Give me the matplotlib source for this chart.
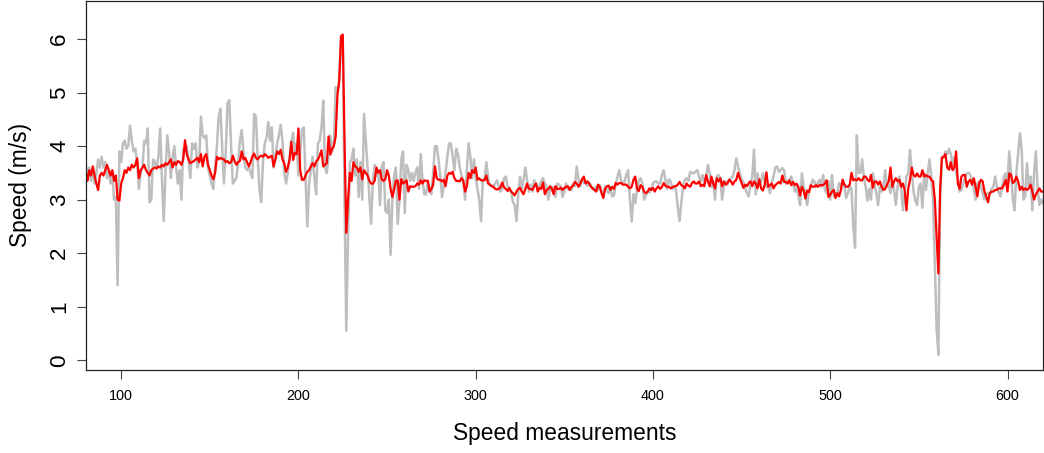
import matplotlib
matplotlib.use("Agg")
import matplotlib.pyplot as plt

# one value per measurement, starting at measurement 80
x_start = 80

# raw speed (grey line)
raw_speed = [
    3.65, 3.45, 3.6, 3.35, 3.55, 3.3, 3.5, 3.75, 3.6, 3.8,
    3.6, 3.7, 3.4, 3.55, 3.3, 3.5, 3.0, 3.05, 1.4, 3.9,
    3.7, 4.05, 4.1, 3.95, 4.0, 4.38, 4.1, 3.9, 3.95, 3.7,
    3.2, 3.5, 3.6, 4.1, 4.05, 4.33, 2.95, 3.0, 3.75, 3.7,
    3.6, 3.8, 4.33, 3.4, 2.6, 3.5, 4.2, 3.9, 3.4, 3.8,
    4.0, 3.6, 3.3, 3.55, 3.0, 3.95, 3.9, 4.0, 3.75, 3.4,
    4.05, 3.95, 4.05, 3.6, 3.7, 4.55, 4.2, 4.15, 4.2, 3.6,
    3.45, 3.3, 3.2, 3.6, 4.0, 4.55, 4.7, 3.95, 3.3, 3.9,
    4.8, 4.86, 4.0, 3.3, 3.35, 3.4, 3.7, 4.1, 4.3, 3.9,
    3.6, 3.55, 3.6, 3.5, 3.4, 4.6, 4.55, 3.8, 3.2, 2.95,
    3.7, 4.05, 4.15, 4.45, 4.1, 4.35, 3.6, 3.8, 4.05, 4.2,
    4.4, 4.1, 3.5, 3.3, 3.5, 3.8, 4.1, 4.25, 3.9, 4.05,
    3.45, 3.9, 4.3, 4.35, 3.4, 2.5, 3.3, 3.55, 3.8, 3.4,
    3.1, 4.05, 4.1, 4.35, 4.85, 3.6, 3.5, 3.8, 4.2, 3.9,
    4.05, 5.1, 5.0, 5.25, 5.98, 6.08, 3.0, 0.55, 2.4, 3.7,
    3.75, 3.95, 3.45, 3.75, 3.05, 3.7, 3.0, 4.6, 4.1, 3.6,
    3.05, 2.55, 3.35, 3.65, 3.45, 3.55, 2.9, 3.6, 3.7, 2.8,
    2.75, 3.0, 1.97, 3.0, 3.45, 3.6, 2.55, 3.0, 3.75, 3.9,
    2.75, 3.65, 3.55, 3.35, 3.5, 3.35, 3.5, 3.6, 3.2, 3.85,
    3.35, 3.1, 3.1, 3.35, 3.15, 3.1, 3.5, 4.0, 4.0, 3.75,
    3.45, 3.05, 3.25, 3.5, 3.8, 4.05, 4.05, 3.8, 3.55, 3.95,
    3.85, 3.6, 3.45, 3.35, 3.0, 3.55, 4.05, 3.8, 3.4, 3.75,
    3.4, 3.2, 3.0, 2.6, 3.36, 3.4, 3.7, 3.4, 3.28, 3.25,
    3.26, 3.3, 3.36, 3.25, 3.15, 3.2, 3.4, 3.43, 3.25, 3.18,
    3.15, 2.95, 2.9, 2.6, 3.1, 3.43, 3.2, 3.36, 3.6, 3.36,
    3.15, 3.28, 3.15, 3.36, 3.3, 3.24, 3.25, 3.34, 3.4, 3.3,
    3.24, 3.0, 3.2, 3.17, 3.24, 3.05, 3.3, 3.28, 3.25, 3.05,
    3.15, 3.3, 3.2, 3.22, 3.18, 3.3, 3.25, 3.62, 3.38, 3.25,
    3.37, 3.31, 3.33, 3.26, 3.32, 3.26, 3.2, 3.21, 3.24, 3.18,
    3.27, 3.15, 3.1, 3.24, 3.18, 3.12, 3.24, 3.06, 3.08, 3.28,
    3.43, 3.55, 3.36, 3.28, 3.34, 3.47, 3.55, 3.0, 2.59, 3.1,
    2.93, 3.18, 3.36, 3.4, 3.3, 3.0, 3.08, 3.15, 3.13, 3.2,
    3.3, 3.34, 3.34, 3.3, 3.3, 3.45, 3.55, 3.37, 3.2, 3.38,
    3.34, 3.2, 3.25, 3.18, 2.85, 2.6, 2.95, 3.24, 3.37, 3.4,
    3.35, 3.52, 3.5, 3.49, 3.52, 3.55, 3.43, 3.34, 3.46, 3.3,
    3.43, 3.65, 3.49, 3.24, 3.35, 3.0, 3.43, 3.46, 3.4, 3.0,
    3.24, 3.34, 3.28, 3.37, 3.4, 3.43, 3.55, 3.77, 3.62, 3.49,
    3.37, 3.33, 3.21, 3.12, 3.06, 3.28, 3.43, 3.93, 3.1, 3.49,
    3.28, 3.34, 3.49, 3.34, 3.24, 3.24, 3.12, 3.31, 3.43, 3.6,
    3.62, 3.52, 3.55, 3.59, 3.55, 3.3, 3.34, 3.37, 3.43, 3.3,
    3.15, 3.24, 3.06, 2.9, 3.49, 3.24, 3.09, 2.9, 3.15, 3.24,
    3.37, 3.34, 3.24, 3.31, 3.37, 3.24, 3.46, 3.18, 3.12, 3.34,
    3.0, 3.46, 3.06, 3.12, 3.12, 3.31, 3.24, 3.37, 3.24, 3.03,
    3.12, 3.24, 3.2, 2.5, 2.1, 4.2, 3.5, 3.5, 3.75, 3.4,
    3.24, 2.98, 3.2, 3.0, 3.49, 3.28, 3.12, 2.9, 3.24, 3.15,
    3.24, 3.55, 3.24, 3.28, 3.12, 3.37, 3.18, 2.9, 3.24, 3.43,
    3.24, 2.8, 3.12, 3.43, 3.49, 3.93, 3.55, 3.15, 2.98, 2.9,
    3.24, 3.3, 2.85, 3.49, 3.18, 3.49, 3.75, 3.43, 3.0, 1.8,
    0.6, 0.1, 3.0, 3.8, 3.78, 3.9, 3.85, 3.95, 3.85, 3.65,
    3.8, 3.5, 3.4, 3.15, 3.18, 3.3, 3.4, 3.49, 3.5, 3.46,
    3.37, 3.2, 3.0, 3.3, 3.34, 3.24, 3.12, 3.0, 3.1, 3.12,
    3.1, 3.2, 3.24, 3.43, 3.24, 3.15, 3.06, 3.24, 3.43, 3.49,
    3.3, 3.9, 3.5, 3.0, 2.8, 3.49, 3.86, 4.24, 3.93, 3.0,
    3.06, 3.68, 3.24, 3.43, 2.8, 3.5, 3.9, 3.2, 2.9, 3.0,
    2.93,
]

# smoothed speed (red line)
smooth_speed = [
    3.52, 3.35, 3.55, 3.45, 3.62, 3.45, 3.3, 3.18, 3.45, 3.5,
    3.45, 3.55, 3.65, 3.55, 3.45, 3.55, 3.35, 3.45, 3.0, 2.98,
    3.3, 3.4, 3.55, 3.5, 3.6, 3.55, 3.65, 3.6, 3.65, 3.77,
    3.4, 3.55, 3.6, 3.65, 3.55, 3.5, 3.45, 3.55, 3.58, 3.6,
    3.58, 3.62, 3.6, 3.65, 3.62, 3.68, 3.65, 3.7, 3.75, 3.6,
    3.7, 3.65, 3.72, 3.7, 3.65, 3.75, 4.11, 3.85, 3.75, 3.68,
    3.7, 3.72, 3.75, 3.78, 3.7, 3.85, 3.62, 3.8, 3.85, 3.65,
    3.55, 3.45, 3.38, 3.5, 3.8, 3.75, 3.78, 3.76, 3.75, 3.7,
    3.72, 3.68, 3.7, 3.82, 3.72, 3.65, 3.7, 3.72, 3.9, 3.75,
    3.78, 3.7, 3.62, 3.7, 3.8, 3.86, 3.78, 3.75, 3.8, 3.82,
    3.8, 3.85, 3.82, 3.78, 3.8, 3.82, 3.62, 3.75, 3.9, 3.85,
    3.93, 3.75, 3.68, 3.52, 3.6, 3.75, 4.08, 3.74, 3.87, 3.85,
    4.33, 3.55, 3.37, 3.37, 3.45, 3.52, 3.55, 3.62, 3.68, 3.62,
    3.71, 3.75, 3.82, 3.92, 3.62, 3.65, 3.68, 4.18, 3.84, 3.95,
    4.0, 4.18, 4.96, 5.2, 6.05, 6.08, 4.1, 2.38, 3.0, 3.5,
    3.35, 3.7, 3.62, 3.6, 3.52, 3.6, 3.38, 3.55, 3.5, 3.45,
    3.35, 3.3, 3.3, 3.35, 3.6, 3.5, 3.55, 3.38, 3.35, 3.38,
    3.55, 3.45, 3.2, 3.05, 3.2, 3.35, 3.36, 3.0, 3.38, 3.3,
    3.33, 3.36, 3.15, 3.25, 3.24, 3.24, 3.25, 3.3, 3.28, 3.36,
    3.3, 3.36, 3.35, 3.35, 3.15, 3.2, 3.28, 3.62, 3.4, 3.37,
    3.37, 3.34, 3.37, 3.25, 3.45, 3.5, 3.48, 3.52, 3.4, 3.35,
    3.35, 3.34, 3.4, 3.35, 3.15, 3.25, 3.5, 3.4, 3.55, 3.5,
    3.6, 3.37, 3.4, 3.36, 3.36, 3.36, 3.45, 3.3, 3.28, 3.25,
    3.24, 3.2, 3.19, 3.2, 3.23, 3.32, 3.23, 3.2, 3.16, 3.22,
    3.15, 3.12, 3.08, 3.15, 3.2, 3.22, 3.15, 3.1, 3.2, 3.3,
    3.2, 3.2, 3.18, 3.25, 3.3, 3.15, 3.22, 3.2, 3.32, 3.1,
    3.18, 3.2, 3.25, 3.2, 3.1, 3.25, 3.2, 3.2, 3.22, 3.18,
    3.22, 3.24, 3.25, 3.18, 3.24, 3.26, 3.33, 3.3, 3.24, 3.3,
    3.38, 3.43, 3.3, 3.34, 3.3, 3.24, 3.21, 3.18, 3.15, 3.28,
    3.24, 3.12, 3.03, 3.2, 3.25, 3.26, 3.18, 3.24, 3.2, 3.31,
    3.28, 3.31, 3.31, 3.28, 3.28, 3.28, 3.24, 3.21, 3.24, 3.37,
    3.43, 3.2, 3.16, 3.27, 3.24, 3.15, 3.12, 3.15, 3.21, 3.18,
    3.22, 3.15, 3.21, 3.25, 3.2, 3.23, 3.31, 3.26, 3.24, 3.24,
    3.21, 3.23, 3.25, 3.25, 3.28, 3.33, 3.27, 3.25, 3.21, 3.3,
    3.26, 3.24, 3.31, 3.34, 3.3, 3.3, 3.34, 3.25, 3.28, 3.25,
    3.46, 3.34, 3.25, 3.43, 3.3, 3.21, 3.4, 3.34, 3.4, 3.25,
    3.34, 3.28, 3.31, 3.37, 3.34, 3.28, 3.34, 3.37, 3.5, 3.4,
    3.31, 3.22, 3.28, 3.25, 3.31, 3.34, 3.25, 3.34, 3.3, 3.21,
    3.38, 3.21, 3.17, 3.27, 3.51, 3.24, 3.27, 3.3, 3.21, 3.27,
    3.3, 3.33, 3.3, 3.45, 3.33, 3.33, 3.3, 3.36, 3.27, 3.33,
    3.27, 3.3, 3.24, 3.08, 3.24, 3.17, 3.02, 3.17, 3.14, 3.27,
    3.24, 3.24, 3.27, 3.24, 3.27, 3.27, 3.27, 3.3, 3.36, 3.05,
    3.09, 3.15, 3.18, 3.03, 3.12, 3.06, 3.18, 3.37, 3.28, 3.24,
    3.24, 3.28, 3.5, 3.36, 3.38, 3.36, 3.4, 3.36, 3.36, 3.43,
    3.43, 3.37, 3.34, 3.46, 3.22, 3.34, 3.34, 3.28, 3.34, 3.24,
    3.18, 3.2, 3.28, 3.34, 3.6, 3.24, 3.34, 3.4, 3.34, 3.37,
    3.24, 3.3, 3.18, 2.8, 3.2, 3.37, 3.6, 3.46, 3.43, 3.49,
    3.43, 3.43, 3.55, 3.43, 3.46, 3.43, 3.43, 3.37, 3.34, 3.0,
    2.3, 1.62, 3.2, 3.78, 3.8, 3.85, 3.6, 3.56, 3.7, 3.55,
    3.6, 3.9, 3.3, 3.2, 3.43, 3.46, 3.46, 3.24, 3.34, 3.37,
    3.28, 3.4, 3.24, 3.06, 3.3, 3.37, 3.34, 3.15, 3.06, 2.95,
    3.12, 3.15, 3.15, 3.18, 3.18, 3.21, 3.21, 3.21, 3.28, 3.37,
    3.15, 3.49, 3.46, 3.31, 3.34, 3.43, 3.34, 3.18, 3.24, 3.18,
    3.21, 3.18, 3.21, 3.28, 3.15, 3.0, 3.1, 3.15, 3.21, 3.15,
    3.15,
]

x_ticks = [100, 200, 300, 400, 500, 600]
y_ticks = [0, 1, 2, 3, 4, 5, 6]

measurements = list(range(x_start, x_start + len(raw_speed)))

plt.rcParams['font.family'] = ['Liberation Sans', 'DejaVu Sans']

fig = plt.figure(figsize=(10.44, 4.53), dpi=100)
ax = fig.add_axes([0.0821, 0.1839, 0.9169, 0.8146])

ax.plot(measurements, raw_speed, color='#BEBEBE', lw=1.8)
ax.plot(measurements, smooth_speed, color='#FF0000', lw=1.6)

ax.set_xlim(80, 620)
ax.set_ylim(-0.176, 6.715)
ax.set_xticks(x_ticks)
ax.set_yticks(y_ticks)
ax.set_yticklabels([str(v) for v in y_ticks], rotation=90, va='center')

for s in ax.spines.values():
    s.set_linewidth(0.9)
    s.set_color('#222222')
ax.tick_params(axis='both', length=6.8, width=0.8, color='#444444')
ax.tick_params(axis='x', pad=7.2, labelsize=10.4)
ax.tick_params(axis='y', pad=4.5, labelsize=16.2)

ax.set_xlabel('Speed measurements', fontsize=16.4, va='center')
ax.xaxis.set_label_coords(0.5, -0.174)
ax.set_ylabel('Speed (m/s)', fontsize=16.4, va='center')
ax.yaxis.set_label_coords(-0.0686, 0.5)

fig.savefig('out.png', dpi=100)
